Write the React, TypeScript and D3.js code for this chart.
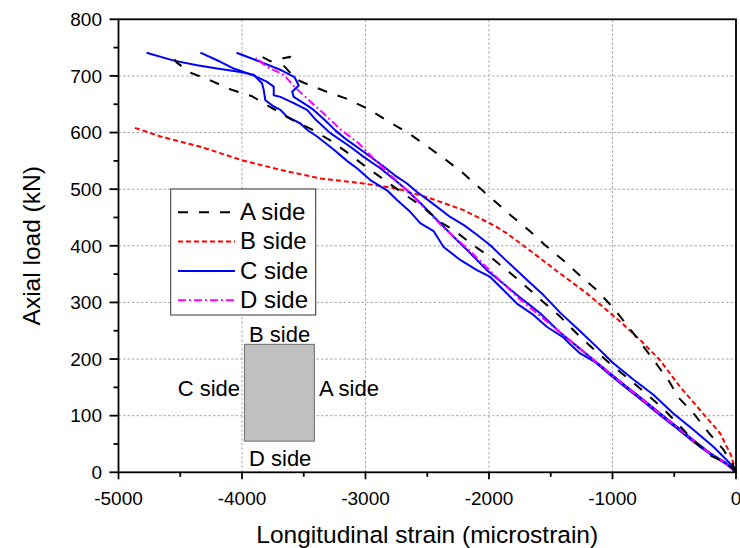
import React from "react";
import * as d3 from "d3";

type P = [number, number];

const xTicks = [-5000, -4000, -3000, -2000, -1000, 0];
const yTicks = [0, 100, 200, 300, 400, 500, 600, 700, 800];

const seriesNames = ["A side", "B side", "C side", "D side"];

const aSide1: P[] = [[0,0],[-32,16],[-105,41],[-218,69],[-340,103],[-461,131],[-542,161],[-663,197],[-777,230],[-890,262],[-993,290],[-1127,322],[-1262,347],[-1392,373],[-1545,401],[-1680,428],[-1830,455],[-1960,480],[-2091,505],[-2219,530],[-2375,556],[-2516,578],[-2658,600],[-2826,621],[-2981,642],[-3155,660],[-3325,673],[-3500,688],[-3560,694],[-3675,721],[-3610,734],[-3772,726],[-3850,735]];
const aSide2: P[] = [[0,0],[-73,16],[-210,30],[-340,55],[-473,86],[-588,112],[-722,138],[-858,163],[-999,188],[-1141,215],[-1289,245],[-1424,275],[-1572,303],[-1694,327],[-1828,352],[-1970,377],[-2120,400],[-2287,428],[-2395,442],[-2536,469],[-2686,491],[-2826,513],[-3000,540],[-3130,562],[-3277,585],[-3439,606],[-3608,624],[-3763,644],[-3918,664],[-4090,676],[-4256,692],[-4422,706],[-4530,724],[-4579,739]];
const bSide: P[] = [[0,0],[-40,30],[-129,69],[-291,110],[-453,151],[-615,198],[-777,234],[-952,269],[-1208,316],[-1424,351],[-1640,387],[-1855,422],[-1960,436],[-2206,463],[-2476,484],[-2745,501],[-3015,510],[-3366,519],[-3689,534],[-3999,551],[-4337,575],[-4660,593],[-4876,609]];
const cSide1: P[] = [[0,0],[-75,14],[-210,32],[-345,54],[-480,78],[-615,101],[-750,125],[-884,148],[-1019,172],[-1150,196],[-1262,210],[-1343,226],[-1397,238],[-1532,257],[-1640,278],[-1774,298],[-1883,322],[-1990,345],[-2098,357],[-2233,375],[-2368,398],[-2449,426],[-2557,440],[-2638,460],[-2745,481],[-2826,498],[-2961,516],[-3069,537],[-3150,550],[-3258,570],[-3392,593],[-3473,605],[-3527,616],[-3635,628],[-3689,640],[-3743,646],[-3811,657],[-3824,675],[-3838,687],[-3878,696],[-3905,702],[-4013,707],[-4201,713],[-4363,719],[-4552,727],[-4773,741]];
const cSide2: P[] = [[0,0],[-75,16],[-210,34],[-345,57],[-480,81],[-615,104],[-750,128],[-884,151],[-1019,175],[-1127,194],[-1262,218],[-1424,247],[-1586,281],[-1721,304],[-1855,328],[-2017,357],[-2152,387],[-2287,416],[-2395,440],[-2449,452],[-2557,476],[-2664,498],[-2745,513],[-2880,537],[-3015,557],[-3123,575],[-3285,599],[-3400,622],[-3473,640],[-3581,652],[-3689,663],[-3743,666],[-3743,681],[-3800,690],[-3900,700],[-3959,705],[-4067,713],[-4175,725],[-4337,741]];
const cSide3: P[] = [[0,0],[-22,10],[-183,45],[-345,75],[-507,104],[-669,137],[-831,164],[-1000,194],[-1130,222],[-1270,251],[-1424,282],[-1559,313],[-1694,340],[-1802,362],[-1909,384],[-1990,401],[-2100,420],[-2200,436],[-2314,451],[-2476,478],[-2583,495],[-2664,510],[-2760,524],[-2853,540],[-3015,566],[-3150,587],[-3240,603],[-3330,622],[-3420,640],[-3473,648],[-3581,663],[-3594,672],[-3541,683],[-3575,698],[-3680,710],[-3840,724],[-4045,741]];
const dSide: P[] = [[0,0],[-75,15],[-210,33],[-345,56],[-480,80],[-615,103],[-750,127],[-884,150],[-1019,174],[-1150,198],[-1300,225],[-1424,247],[-1586,276],[-1774,310],[-1963,350],[-2179,396],[-2368,432],[-2557,474],[-2638,493],[-2799,525],[-2961,560],[-3050,580],[-3204,606],[-3341,634],[-3473,660],[-3576,681],[-3662,702],[-3797,716],[-3888,732]];

const FONT = "'Liberation Sans', Arial, sans-serif";

const styles: Record<string, { stroke: string; dash?: string; width: number }> = {
  "A side": { stroke: "#000000", dash: "10,11", width: 2 },
  "B side": { stroke: "#ff0000", dash: "5,3", width: 2 },
  "C side": { stroke: "#0000ff", width: 2 },
  "D side": { stroke: "#ff00ff", dash: "8,3,2,3", width: 2 },
};

export default function App() {
  const W = 740, H = 548;
  const x = d3.scaleLinear().domain([-5000, 0]).range([118.5, 736]);
  const y = d3.scaleLinear().domain([0, 800]).range([472.3, 19.3]);
  const line = d3.line<P>().x((d) => x(d[0])).y((d) => y(d[1]));

  const xMinor = d3.range(-5000, 1, 500);
  const yMinor = d3.range(0, 801, 50);

  const curves: { name: string; data: P[] }[] = [
    { name: "B side", data: bSide },
    { name: "C side", data: cSide1 },
    { name: "C side", data: cSide2 },
    { name: "C side", data: cSide3 },
    { name: "D side", data: dSide },
    { name: "A side", data: aSide1 },
    { name: "A side", data: aSide2 },
  ];

  const x0 = x.range()[0], x1 = x.range()[1];
  const y0 = y.range()[0], y1 = y.range()[1];

  const rx0 = -3980, rx1 = -3414, ryTop = 226, ryBot = 55;

  const legX = 170.7, legY = 189, legW = 145, legH = 126;

  return (
    <svg width={W} height={H} style={{ position: "absolute", left: 0, top: 0, background: "#fff" }} fontFamily={FONT}>
      <rect x={0} y={0} width={W} height={H} fill="#fff" />
      {xTicks.filter((t) => t !== -5000 && t !== 0).map((t) => (
        <line key={"gx" + t} x1={x(t)} x2={x(t)} y1={y0} y2={y1} stroke="#a8a8a8" strokeWidth={1} strokeDasharray="2.5,2" />
      ))}
      {yTicks.filter((t) => t !== 0 && t !== 800).map((t) => (
        <line key={"gy" + t} x1={x0} x2={x1} y1={y(t)} y2={y(t)} stroke="#a8a8a8" strokeWidth={1} strokeDasharray="2.5,2" />
      ))}

      <rect x={x(rx0)} y={y(ryTop)} width={x(rx1) - x(rx0)} height={y(ryBot) - y(ryTop)} fill="#c0c0c0" stroke="#6e6e6e" strokeWidth={1} />
      <text x={249} y={341.5} fontSize={22} fill="#000">B side</text>
      <text x={249} y={465.5} fontSize={22} fill="#000">D side</text>
      <text x={240} y={396} fontSize={22} fill="#000" textAnchor="end">C side</text>
      <text x={319} y={396} fontSize={22} fill="#000">A side</text>

      <rect x={legX} y={legY} width={legW} height={legH} fill="#fff" stroke="#333" strokeWidth={1} />
      {seriesNames.map((n, i) => {
        const ly = 212.3 + i * 29.3;
        const s = styles[n];
        return (
          <g key={n}>
            <line x1={178} x2={235} y1={ly} y2={ly} stroke={s.stroke} strokeWidth={s.width} strokeDasharray={s.dash} />
            <text x={240} y={ly + 7.8} fontSize={24} fill="#000">{n}</text>
          </g>
        );
      })}

      {curves.map((c, i) => {
        const s = styles[c.name];
        return (
          <path key={i} d={line(c.data) || ""} fill="none" stroke={s.stroke} strokeWidth={s.width} strokeDasharray={s.dash} strokeLinejoin="round" />
        );
      })}

      <rect x={x0} y={y1} width={x1 - x0} height={y0 - y1} fill="none" stroke="#000" strokeWidth={1.8} />

      {xMinor.map((t) => {
        const major = t % 1000 === 0;
        return <line key={"xt" + t} x1={x(t)} x2={x(t)} y1={y0} y2={y0 + (major ? 7 : 4.5)} stroke="#000" strokeWidth={1.8} />;
      })}
      {xTicks.map((t) => (
        <text key={"xl" + t} x={x(t)} y={504.5} fontSize={19} textAnchor="middle" fill="#000">{t}</text>
      ))}
      {yMinor.map((t) => {
        const major = t % 100 === 0;
        return <line key={"yt" + t} x1={x0 - (major ? 9 : 5)} x2={x0} y1={y(t)} y2={y(t)} stroke="#000" strokeWidth={1.8} />;
      })}
      {yTicks.map((t) => (
        <text key={"yl" + t} x={102} y={y(t) + 6.8} fontSize={19} textAnchor="end" fill="#000">{t}</text>
      ))}

      <text x={(x0 + x1) / 2} y={543} fontSize={24.5} textAnchor="middle" fill="#000">Longitudinal strain (microstrain)</text>
      <text transform={`translate(40, ${(y0 + y1) / 2}) rotate(-90)`} fontSize={24.5} textAnchor="middle" fill="#000">Axial load (kN)</text>
    </svg>
  );
}
